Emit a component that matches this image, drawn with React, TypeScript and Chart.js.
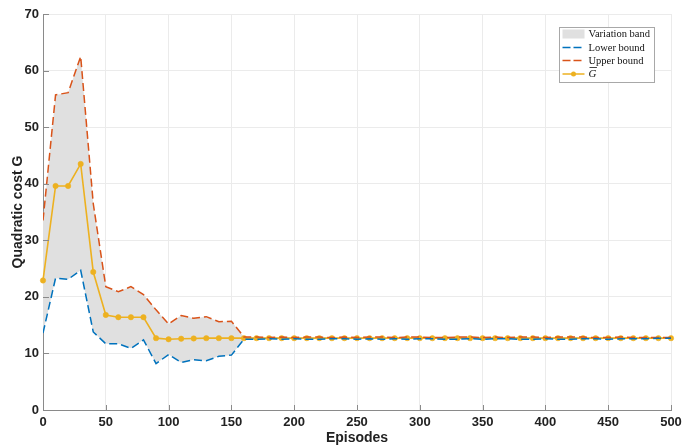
import React, { useEffect, useRef } from 'react';
import { Chart, registerables } from 'chart.js';

Chart.register(...registerables);

const episodes: number[] = [
  0, 10, 20, 30, 40, 50, 60, 70, 80, 90, 100, 110, 120, 130, 140, 150, 160, 170, 180, 190, 200,
  210, 220, 230, 240, 250, 260, 270, 280, 290, 300, 310, 320, 330, 340, 350, 360, 370, 380, 390,
  400, 410, 420, 430, 440, 450, 460, 470, 480, 490, 500,
];

const upperBound: number[] = [
  33.5, 55.7, 56.1, 62.5, 36.5, 21.8, 20.9, 21.8, 20.4, 17.7, 15.2, 16.7, 16.2, 16.5, 15.6, 15.7, 12.9,
  12.9, 12.8, 12.9, 12.8, 12.9, 12.9, 12.8, 12.9, 12.8, 12.9, 12.9, 12.8, 12.9, 12.9, 12.8, 12.8,
  12.9, 12.9, 12.8, 12.9, 12.8, 12.9, 12.9, 12.8, 12.9, 12.9, 12.9, 12.8, 12.8, 12.9, 12.8, 12.8,
  12.8, 12.8,
];

const lowerBound: number[] = [
  13.6, 23.3, 23.1, 24.7, 13.8, 11.7, 11.7, 10.9, 12.4, 8.2, 9.8, 8.4, 8.9, 8.7, 9.5, 9.7, 12.5,
  12.5, 12.6, 12.5, 12.6, 12.5, 12.5, 12.6, 12.6, 12.5, 12.6, 12.5, 12.6, 12.5, 12.6, 12.6, 12.5,
  12.5, 12.6, 12.5, 12.6, 12.6, 12.5, 12.5, 12.6, 12.5, 12.5, 12.6, 12.6, 12.5, 12.6, 12.6, 12.6,
  12.7, 12.7,
];

const meanG: number[] = [
  22.9, 39.6, 39.6, 43.5, 24.4, 16.8, 16.4, 16.4, 16.4, 12.7, 12.5, 12.6, 12.65, 12.7, 12.7, 12.7, 12.7,
  12.7, 12.7, 12.7, 12.7, 12.7, 12.7, 12.7, 12.7, 12.7, 12.7, 12.7, 12.7, 12.7, 12.7, 12.7, 12.7,
  12.7, 12.7, 12.7, 12.7, 12.7, 12.7, 12.7, 12.7, 12.7, 12.7, 12.7, 12.7, 12.7, 12.7, 12.7, 12.7,
  12.7, 12.7,
];

const legendLabels: string[] = ['Variation band', 'Lower bound', 'Upper bound', 'G'];

const BLUE = '#0072BD';
const ORANGE = '#D95319';
const YELLOW = '#EDB120';
const BAND = 'rgb(224,224,224)';
const AXIS = '#8a8a8a';
const GRID = '#ebebeb';
const TEXT = '#222222';

const toPts = (ys: number[]) => episodes.map((x, i) => ({ x, y: ys[i] }));

const innerTicksPlugin = {
  id: 'innerTicks',
  afterDatasetsDraw(chart: any) {
    const { ctx, chartArea, scales } = chart;
    ctx.save();
    ctx.strokeStyle = AXIS;
    ctx.lineWidth = 1;
    ctx.beginPath();
    scales.x.ticks.forEach((t: any) => {
      const px = Math.round(scales.x.getPixelForValue(t.value)) + 0.5;
      ctx.moveTo(px, chartArea.bottom);
      ctx.lineTo(px, chartArea.bottom - 5);
    });
    scales.y.ticks.forEach((t: any) => {
      const py = Math.round(scales.y.getPixelForValue(t.value)) + 0.5;
      ctx.moveTo(chartArea.left, py);
      ctx.lineTo(chartArea.left + 6, py);
    });
    ctx.stroke();
    ctx.restore();
  },
};

const legendPlugin = {
  id: 'boxLegend',
  afterDraw(chart: any) {
    const { ctx, chartArea } = chart;
    const w = 95;
    const h = 55;
    const x0 = Math.round(chartArea.right - 17 - w) + 0.5;
    const y0 = Math.round(chartArea.top + 13) + 0.5;
    ctx.save();
    ctx.fillStyle = '#ffffff';
    ctx.fillRect(x0, y0, w, h);
    ctx.strokeStyle = '#a8a8a8';
    ctx.lineWidth = 1;
    ctx.strokeRect(x0, y0, w, h);

    const rows = [y0 + 6.5, y0 + 20, y0 + 33, y0 + 46.5];
    const sx0 = x0 + 3;
    const sx1 = x0 + 25;
    const tx = x0 + 29;

    ctx.fillStyle = BAND;
    ctx.fillRect(sx0, rows[0] - 4.5, sx1 - sx0, 9);

    ctx.lineWidth = 1.5;
    ctx.setLineDash([8, 3]);
    ctx.strokeStyle = BLUE;
    ctx.beginPath();
    ctx.moveTo(sx0, rows[1]);
    ctx.lineTo(sx1 - 2, rows[1]);
    ctx.stroke();

    ctx.strokeStyle = ORANGE;
    ctx.beginPath();
    ctx.moveTo(sx0, rows[2]);
    ctx.lineTo(sx1 - 2, rows[2]);
    ctx.stroke();

    ctx.setLineDash([]);
    ctx.strokeStyle = YELLOW;
    ctx.beginPath();
    ctx.moveTo(sx0, rows[3]);
    ctx.lineTo(sx1, rows[3]);
    ctx.stroke();
    ctx.fillStyle = YELLOW;
    ctx.beginPath();
    ctx.arc((sx0 + sx1) / 2, rows[3], 2.5, 0, Math.PI * 2);
    ctx.fill();

    ctx.fillStyle = '#111111';
    ctx.textBaseline = 'middle';
    ctx.textAlign = 'left';
    ctx.font = '10.5px "Liberation Serif", "Times New Roman", serif';
    ctx.fillText(legendLabels[0], tx, rows[0] + 0.5);
    ctx.fillText(legendLabels[1], tx, rows[1] + 0.5);
    ctx.fillText(legendLabels[2], tx, rows[2] + 0.5);
    ctx.font = 'italic 11px "Liberation Serif", "Times New Roman", serif';
    ctx.fillText(legendLabels[3], tx, rows[3] + 0.5);
    const gw = ctx.measureText(legendLabels[3]).width;
    ctx.strokeStyle = '#111111';
    ctx.lineWidth = 0.8;
    ctx.beginPath();
    ctx.moveTo(tx + 1, rows[3] - 6.5);
    ctx.lineTo(tx + gw + 0.5, rows[3] - 6.5);
    ctx.stroke();
    ctx.restore();
  },
};

export default function App() {
  const canvasRef = useRef<HTMLCanvasElement | null>(null);

  useEffect(() => {
    document.body.style.margin = '0';
    const canvas = canvasRef.current;
    if (!canvas) return;
    const tickFont = { family: '"Liberation Sans", Arial, sans-serif', size: 13, weight: 'bold' as const };
    const titleFont = { family: '"Liberation Sans", Arial, sans-serif', size: 14, weight: 'bold' as const, lineHeight: 1 };
    const chart = new Chart(canvas, {
      type: 'line',
      data: {
        datasets: [
          {
            label: 'Lower bound',
            data: toPts(lowerBound),
            borderColor: BLUE,
            borderWidth: 1.5,
            borderDash: [8, 4],
            pointRadius: 0,
            fill: false,
            tension: 0,
          },
          {
            label: 'Upper bound',
            data: toPts(upperBound),
            borderColor: ORANGE,
            borderWidth: 1.5,
            borderDash: [8, 4],
            pointRadius: 0,
            backgroundColor: BAND,
            fill: '-1',
            tension: 0,
          },
          {
            label: 'G',
            data: toPts(meanG),
            borderColor: YELLOW,
            borderWidth: 1.6,
            pointRadius: 2.7,
            pointBackgroundColor: YELLOW,
            pointBorderColor: YELLOW,
            pointBorderWidth: 0.5,
            fill: false,
            tension: 0,
            clip: false as any,
          },
        ],
      },
      options: {
        responsive: false,
        animation: false,
        devicePixelRatio: 1,
        layout: { padding: { top: 14, right: 23, left: 0, bottom: 0 } },
        plugins: {
          legend: { display: false },
          tooltip: { enabled: false },
          filler: { drawTime: 'beforeDatasetsDraw' },
        },
        scales: {
          x: {
            type: 'linear',
            min: 0,
            max: 500,
            ticks: { stepSize: 50, font: tickFont, color: TEXT, padding: 5, maxRotation: 0 },
            grid: { color: GRID, drawTicks: false },
            border: { display: true, color: AXIS, width: 1 },
            title: { display: true, text: 'Episodes', font: titleFont, color: TEXT, padding: { top: 0, bottom: 0 } },
            afterFit: (s: any) => {
              s.height = 35;
            },
          },
          y: {
            min: 0,
            max: 70,
            ticks: { stepSize: 10, font: tickFont, color: TEXT, padding: 4 },
            grid: { color: GRID, drawTicks: false },
            border: { display: true, color: AXIS, width: 1 },
            title: { display: true, text: 'Quadratic cost G', font: titleFont, color: TEXT, padding: { top: 11, bottom: 0 } },
            afterFit: (s: any) => {
              s.width = 43;
            },
          },
        },
      },
      plugins: [innerTicksPlugin, legendPlugin],
    });
    return () => chart.destroy();
  }, []);

  return (
    <div style={{ width: 694, height: 445 }}>
      <canvas ref={canvasRef} width={694} height={445} style={{ display: 'block' }} />
    </div>
  );
}
